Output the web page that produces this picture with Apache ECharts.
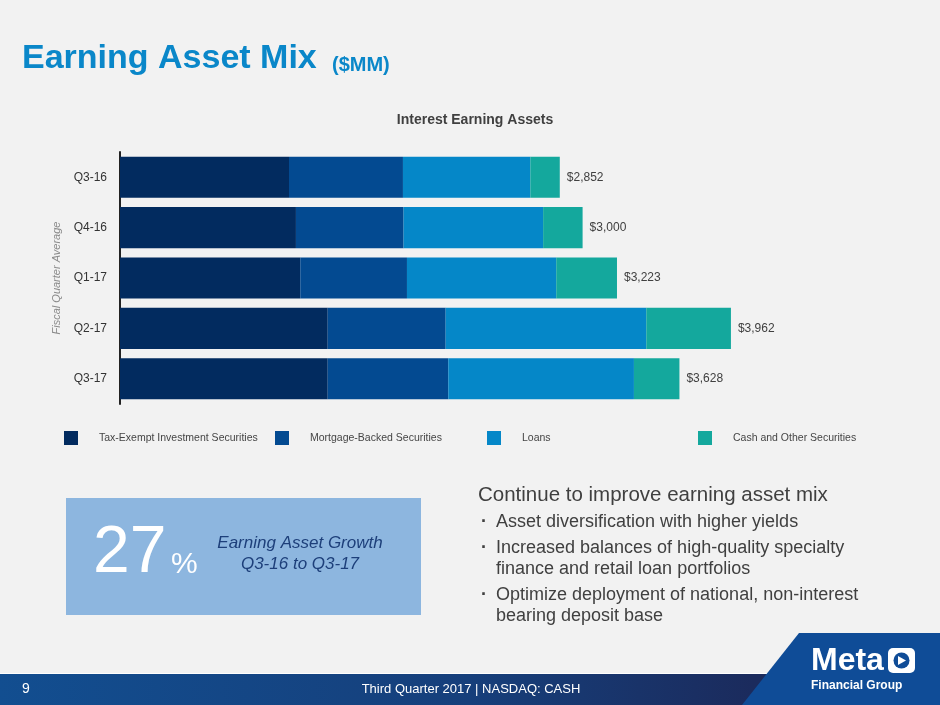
<!DOCTYPE html>
<html>
<head>
<meta charset="utf-8">
<script src="https://cdn.jsdelivr.net/npm/echarts@6/dist/echarts.min.js"></script>
<style>
html,body{margin:0;padding:0;background:#f2f2f2;}
#chart{width:940px;height:705px;}
</style>
</head>
<body>
<div id="chart"></div>
<script>
// ---- data ----
var categories = ['Q3-16', 'Q4-16', 'Q1-17', 'Q2-17', 'Q3-17'];
var taxExempt = [1096, 1141, 1169, 1347, 1347];
var mortgageBacked = [739, 698, 692, 765, 782];
var loans = [826, 905, 968, 1301, 1204];
var cashOther = [191, 256, 394, 549, 295];
var totals = [2852, 3000, 3223, 3962, 3628];
var seriesNames = ['Tax-Exempt Investment Securities', 'Mortgage-Backed Securities', 'Loans', 'Cash and Other Securities'];

var colors = ['#022b5f', '#034a91', '#0587c8', '#14a89d'];
var FONT = '"Liberation Sans", Arial, sans-serif';

function fmtMoney(v) {
  return '$' + v.toLocaleString('en-US');
}

var chart = echarts.init(document.getElementById('chart'), null, {renderer: 'canvas'});

var seriesData = [taxExempt, mortgageBacked, loans, cashOther];
var series = seriesData.map(function (d, i) {
  var s = {
    name: seriesNames[i],
    type: 'bar',
    stack: 'total',
    data: d,
    barCategoryGap: '18.5%',
    itemStyle: {color: colors[i]},
    emphasis: {disabled: true},
    animation: false
  };
  if (i === seriesData.length - 1) {
    s.label = {
      show: true,
      position: 'right',
      distance: 7,
      color: '#404040',
      fontFamily: FONT,
      fontSize: 12,
      formatter: function (p) { return fmtMoney(totals[p.dataIndex]); }
    };
  }
  return s;
});

var legendLefts = [64, 275, 487, 698];
var legends = seriesNames.map(function (n, i) {
  return {
    data: [n],
    left: legendLefts[i],
    top: 431,
    itemWidth: 14,
    itemHeight: 14,
    icon: 'rect',
    padding: 0,
    selectedMode: false,
    textStyle: {color: '#454545', fontFamily: FONT, fontSize: 10.5, padding: [0, 0, 0, 16]}
  };
});

function txt(x, y, text, font, fill, align) {
  return {type: 'text', style: {x: x, y: y, text: text, font: font, fill: fill, align: align || 'left', verticalAlign: 'middle'}};
}

var option = {
  backgroundColor: '#f2f2f2',
  animation: false,
  title: {
    text: 'Interest Earning Assets',
    left: 470,
    textAlign: 'center',
    top: 108,
    textStyle: {color: '#404040', fontFamily: FONT, fontSize: 14, fontWeight: 'bold'}
  },
  legend: legends,
  grid: {left: 120, top: 152, width: 771, height: 252, containLabel: false},
  xAxis: {
    type: 'value',
    min: 0,
    max: 5000,
    show: false
  },
  yAxis: {
    type: 'category',
    data: categories,
    inverse: true,
    axisLine: {show: true, lineStyle: {color: '#222222', width: 2}},
    axisTick: {show: false},
    axisLabel: {color: '#333333', fontFamily: FONT, fontSize: 12, margin: 13},
    name: 'Fiscal Quarter Average',
    nameLocation: 'middle',
    nameGap: 51,
    nameRotate: 90,
    nameTextStyle: {color: '#8a8a8a', fontFamily: FONT, fontSize: 11, fontStyle: 'italic'}
  },
  series: series,
  graphic: [
    // title
    txt(22, 59, 'Earning Asset Mix', 'bold 34px ' + FONT, '#0a87c9'),
    txt(332, 65, '($MM)', 'bold 20px ' + FONT, '#0a87c9'),
    // highlight box
    {type: 'rect', shape: {x: 66, y: 498, width: 355, height: 117}, style: {fill: '#8db6df'}},
    txt(93, 554, '27', '66px ' + FONT, '#ffffff'),
    txt(171, 565, '%', '30px ' + FONT, '#ffffff'),
    txt(300, 543, 'Earning Asset Growth', 'italic 17px ' + FONT, '#1d3f7a', 'center'),
    txt(300, 564, 'Q3-16 to Q3-17', 'italic 17px ' + FONT, '#1d3f7a', 'center'),
    // bullets
    txt(478, 495, 'Continue to improve earning asset mix', '20.5px ' + FONT, '#404040'),
    txt(481, 522, '\u00b7', 'bold 18px ' + FONT, '#404040'),
    txt(496, 522, 'Asset diversification with higher yields', '18px ' + FONT, '#404040'),
    txt(481, 548, '\u00b7', 'bold 18px ' + FONT, '#404040'),
    txt(496, 548, 'Increased balances of high-quality specialty', '18px ' + FONT, '#404040'),
    txt(496, 569, 'finance and retail loan portfolios', '18px ' + FONT, '#404040'),
    txt(481, 595, '\u00b7', 'bold 18px ' + FONT, '#404040'),
    txt(496, 595, 'Optimize deployment of national, non-interest', '18px ' + FONT, '#404040'),
    txt(496, 616, 'bearing deposit base', '18px ' + FONT, '#404040'),
    // footer band
    {type: 'rect', shape: {x: 0, y: 673, width: 940, height: 1}, style: {fill: '#ffffff'}},
    {type: 'rect', shape: {x: 0, y: 674, width: 940, height: 31}, style: {fill: {type: 'linear', x: 0, y: 0, x2: 1, y2: 0, colorStops: [{offset: 0, color: '#124e90'}, {offset: 0.5, color: '#163f7b'}, {offset: 0.8, color: '#1b2b5d'}, {offset: 1, color: '#1b2b5d'}]}}},
    txt(22, 689, '9', '14px ' + FONT, '#ffffff'),
    txt(471, 689, 'Third Quarter 2017 | NASDAQ: CASH', '13px ' + FONT, '#ffffff', 'center'),
    // logo
    {type: 'polygon', shape: {points: [[799, 633], [940, 633], [940, 705], [742, 705]]}, style: {fill: '#0f4c97'}},
    txt(811, 661, 'Meta', 'bold 32px ' + FONT, '#ffffff'),
    {type: 'rect', shape: {x: 888, y: 648, width: 27, height: 25, r: 5}, style: {fill: '#ffffff'}},
    {type: 'circle', shape: {cx: 901.5, cy: 660.5, r: 8}, style: {fill: '#0f4c97'}},
    {type: 'polygon', shape: {points: [[898, 656], [906, 660.5], [898, 665]]}, style: {fill: '#ffffff'}},
    txt(811, 686, 'Financial Group', 'bold 12px ' + FONT, '#ffffff')
  ]
};

chart.setOption(option);
</script>
</body>
</html>
